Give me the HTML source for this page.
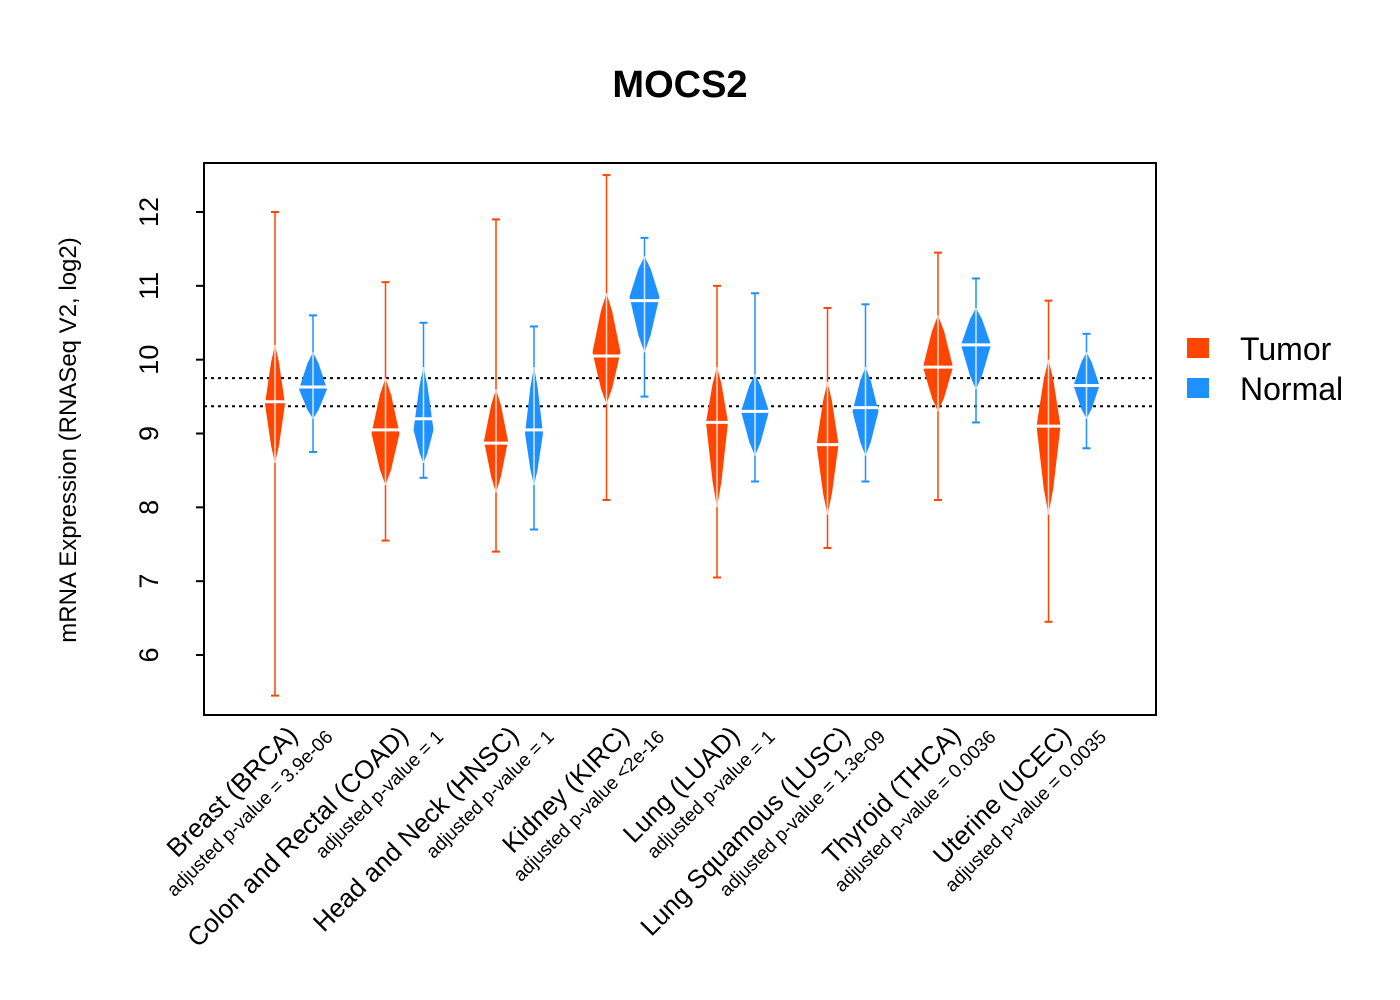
<!DOCTYPE html>
<html><head><meta charset="utf-8"><style>
html,body{margin:0;padding:0;background:#fff;}
svg{display:block;font-family:"Liberation Sans",Arial,sans-serif;}
</style></head><body>
<svg id="chart" width="1400" height="1000" viewBox="0 0 1400 1000" xmlns="http://www.w3.org/2000/svg">
<rect width="1400" height="1000" fill="#fff"/>
<text x="680" y="97" text-anchor="middle" font-size="38" font-weight="bold">MOCS2</text>
<g id="plot"></g>
<rect x="204" y="163" width="952" height="552" fill="none" stroke="#000" stroke-width="2"/>
<text transform="translate(76,440) rotate(-90)" text-anchor="middle" font-size="24">mRNA Expression (RNASeq V2, log2)</text>
<g>
<rect x="1187" y="338" width="22" height="20" fill="#FF4500"/>
<text x="1240" y="360" font-size="32">Tumor</text>
<rect x="1187" y="378" width="22" height="20" fill="#1E90FF"/>
<text x="1240" y="400" font-size="32">Normal</text>
</g>
</svg>
<script>
const categories = ["Breast (BRCA)","Colon and Rectal (COAD)","Head and Neck (HNSC)","Kidney (KIRC)","Lung (LUAD)","Lung Squamous (LUSC)","Thyroid (THCA)","Uterine (UCEC)"];
const pvalues = ["adjusted p-value = 3.9e-06","adjusted p-value = 1","adjusted p-value = 1","adjusted p-value <2e-16","adjusted p-value = 1","adjusted p-value = 1.3e-09","adjusted p-value = 0.0036","adjusted p-value = 0.0035"];
const yTicks = [6,7,8,9,10,11,12];
const refLines = [9.75, 9.37];
const tumorMin = [5.45,7.55,7.4,8.1,7.05,7.45,8.1,6.45];
const tumorMax = [12.0,11.05,11.9,12.5,11.0,10.7,11.45,10.8];
const tumorBodyLo = [8.6,8.3,8.2,9.4,8.0,7.9,9.3,7.9];
const tumorBodyHi = [10.2,9.75,9.6,10.9,9.9,9.7,10.6,10.0];
const tumorPeak = [9.4,9.0,8.9,10.1,9.15,8.85,9.9,9.1];
const tumorWidth = [10,14,12,14,11,11,15,12];
const tumorMedian = [9.43,9.05,8.87,10.05,9.15,8.85,9.9,9.1];
const normalMin = [8.75,8.4,7.7,9.5,8.35,8.35,9.15,8.8];
const normalMax = [10.6,10.5,10.45,11.65,10.9,10.75,11.1,10.35];
const normalBodyLo = [9.2,8.6,8.3,10.1,8.7,8.7,9.6,9.2];
const normalBodyHi = [10.1,9.9,9.9,11.4,9.8,9.9,10.7,10.1];
const normalPeak = [9.6,9.05,9.0,10.85,9.3,9.3,10.2,9.65];
const normalWidth = [14,10,9,15,14,13,15,13];
const normalMedian = [9.63,9.2,9.05,10.8,9.3,9.35,10.2,9.65];

const NS="http://www.w3.org/2000/svg";
const g=document.getElementById('plot');
function y(v){return 655-(v-6)*73.83;}
function xc(i){return 294+i*110.5;}
function mk(tag,attrs){const e=document.createElementNS(NS,tag);for(const k in attrs)e.setAttribute(k,attrs[k]);g.appendChild(e);return e;}

yTicks.forEach(t=>{
  const l=mk('line',{x1:196,x2:204,y1:y(t),y2:y(t),stroke:'#000','stroke-width':2});
  
  
  const tx=mk('text',{transform:`translate(158,${y(t)}) rotate(-90)`,'text-anchor':'middle','font-size':27});
  tx.textContent=t;
  
  
});
refLines.forEach(r=>{
  const l=mk('line',{x1:204,x2:1156,y1:y(r),y2:y(r),stroke:'#000','stroke-width':2,'stroke-dasharray':'3,4'});
  
  
});
function violin(cx,mn,mx,lo,hi,pk,w,md,col,name){
  const ln=mk('line',{x1:cx,x2:cx,y1:y(mn),y2:y(mx),stroke:col,'stroke-width':1.5});
  
  
  [mn,mx].forEach(v=>{mk('line',{x1:cx-4,x2:cx+4,y1:y(v),y2:y(v),stroke:col,'stroke-width':2});});
  const pts=[[cx,y(hi)],[cx+w*0.4,y(hi-(hi-pk)*0.3)],[cx+w,y(pk)],[cx+w*0.4,y(lo+(pk-lo)*0.3)],[cx,y(lo)],[cx-w*0.4,y(lo+(pk-lo)*0.3)],[cx-w,y(pk)],[cx-w*0.4,y(hi-(hi-pk)*0.3)]];
  const p=mk('polygon',{points:pts.map(q=>q.join(',')).join(' '),fill:col});
  
  
  mk('line',{x1:cx,x2:cx,y1:y(hi),y2:y(lo),stroke:'#fff','stroke-width':1.5,'stroke-opacity':0.8});
  const m=mk('line',{x1:cx-w,x2:cx+w,y1:y(md),y2:y(md),stroke:'#fff','stroke-width':3});
  
  
}
categories.forEach((c,i)=>{
  const c0=xc(i);
  violin(c0-19,tumorMin[i],tumorMax[i],tumorBodyLo[i],tumorBodyHi[i],tumorPeak[i],tumorWidth[i],tumorMedian[i],'#FF4500','tumor-'+i);
  violin(c0+19,normalMin[i],normalMax[i],normalBodyLo[i],normalBodyHi[i],normalPeak[i],normalWidth[i],normalMedian[i],'#1E90FF','normal-'+i);
  const t=mk('text',{transform:`translate(${c0+5},737) rotate(-45)`,'text-anchor':'end','font-size':26});
  t.textContent=c;
  
  
  const p=mk('text',{transform:`translate(${c0+40},738) rotate(-45)`,'text-anchor':'end','font-size':19});
  p.textContent=pvalues[i];
  
  
});
</script>
</body></html>
